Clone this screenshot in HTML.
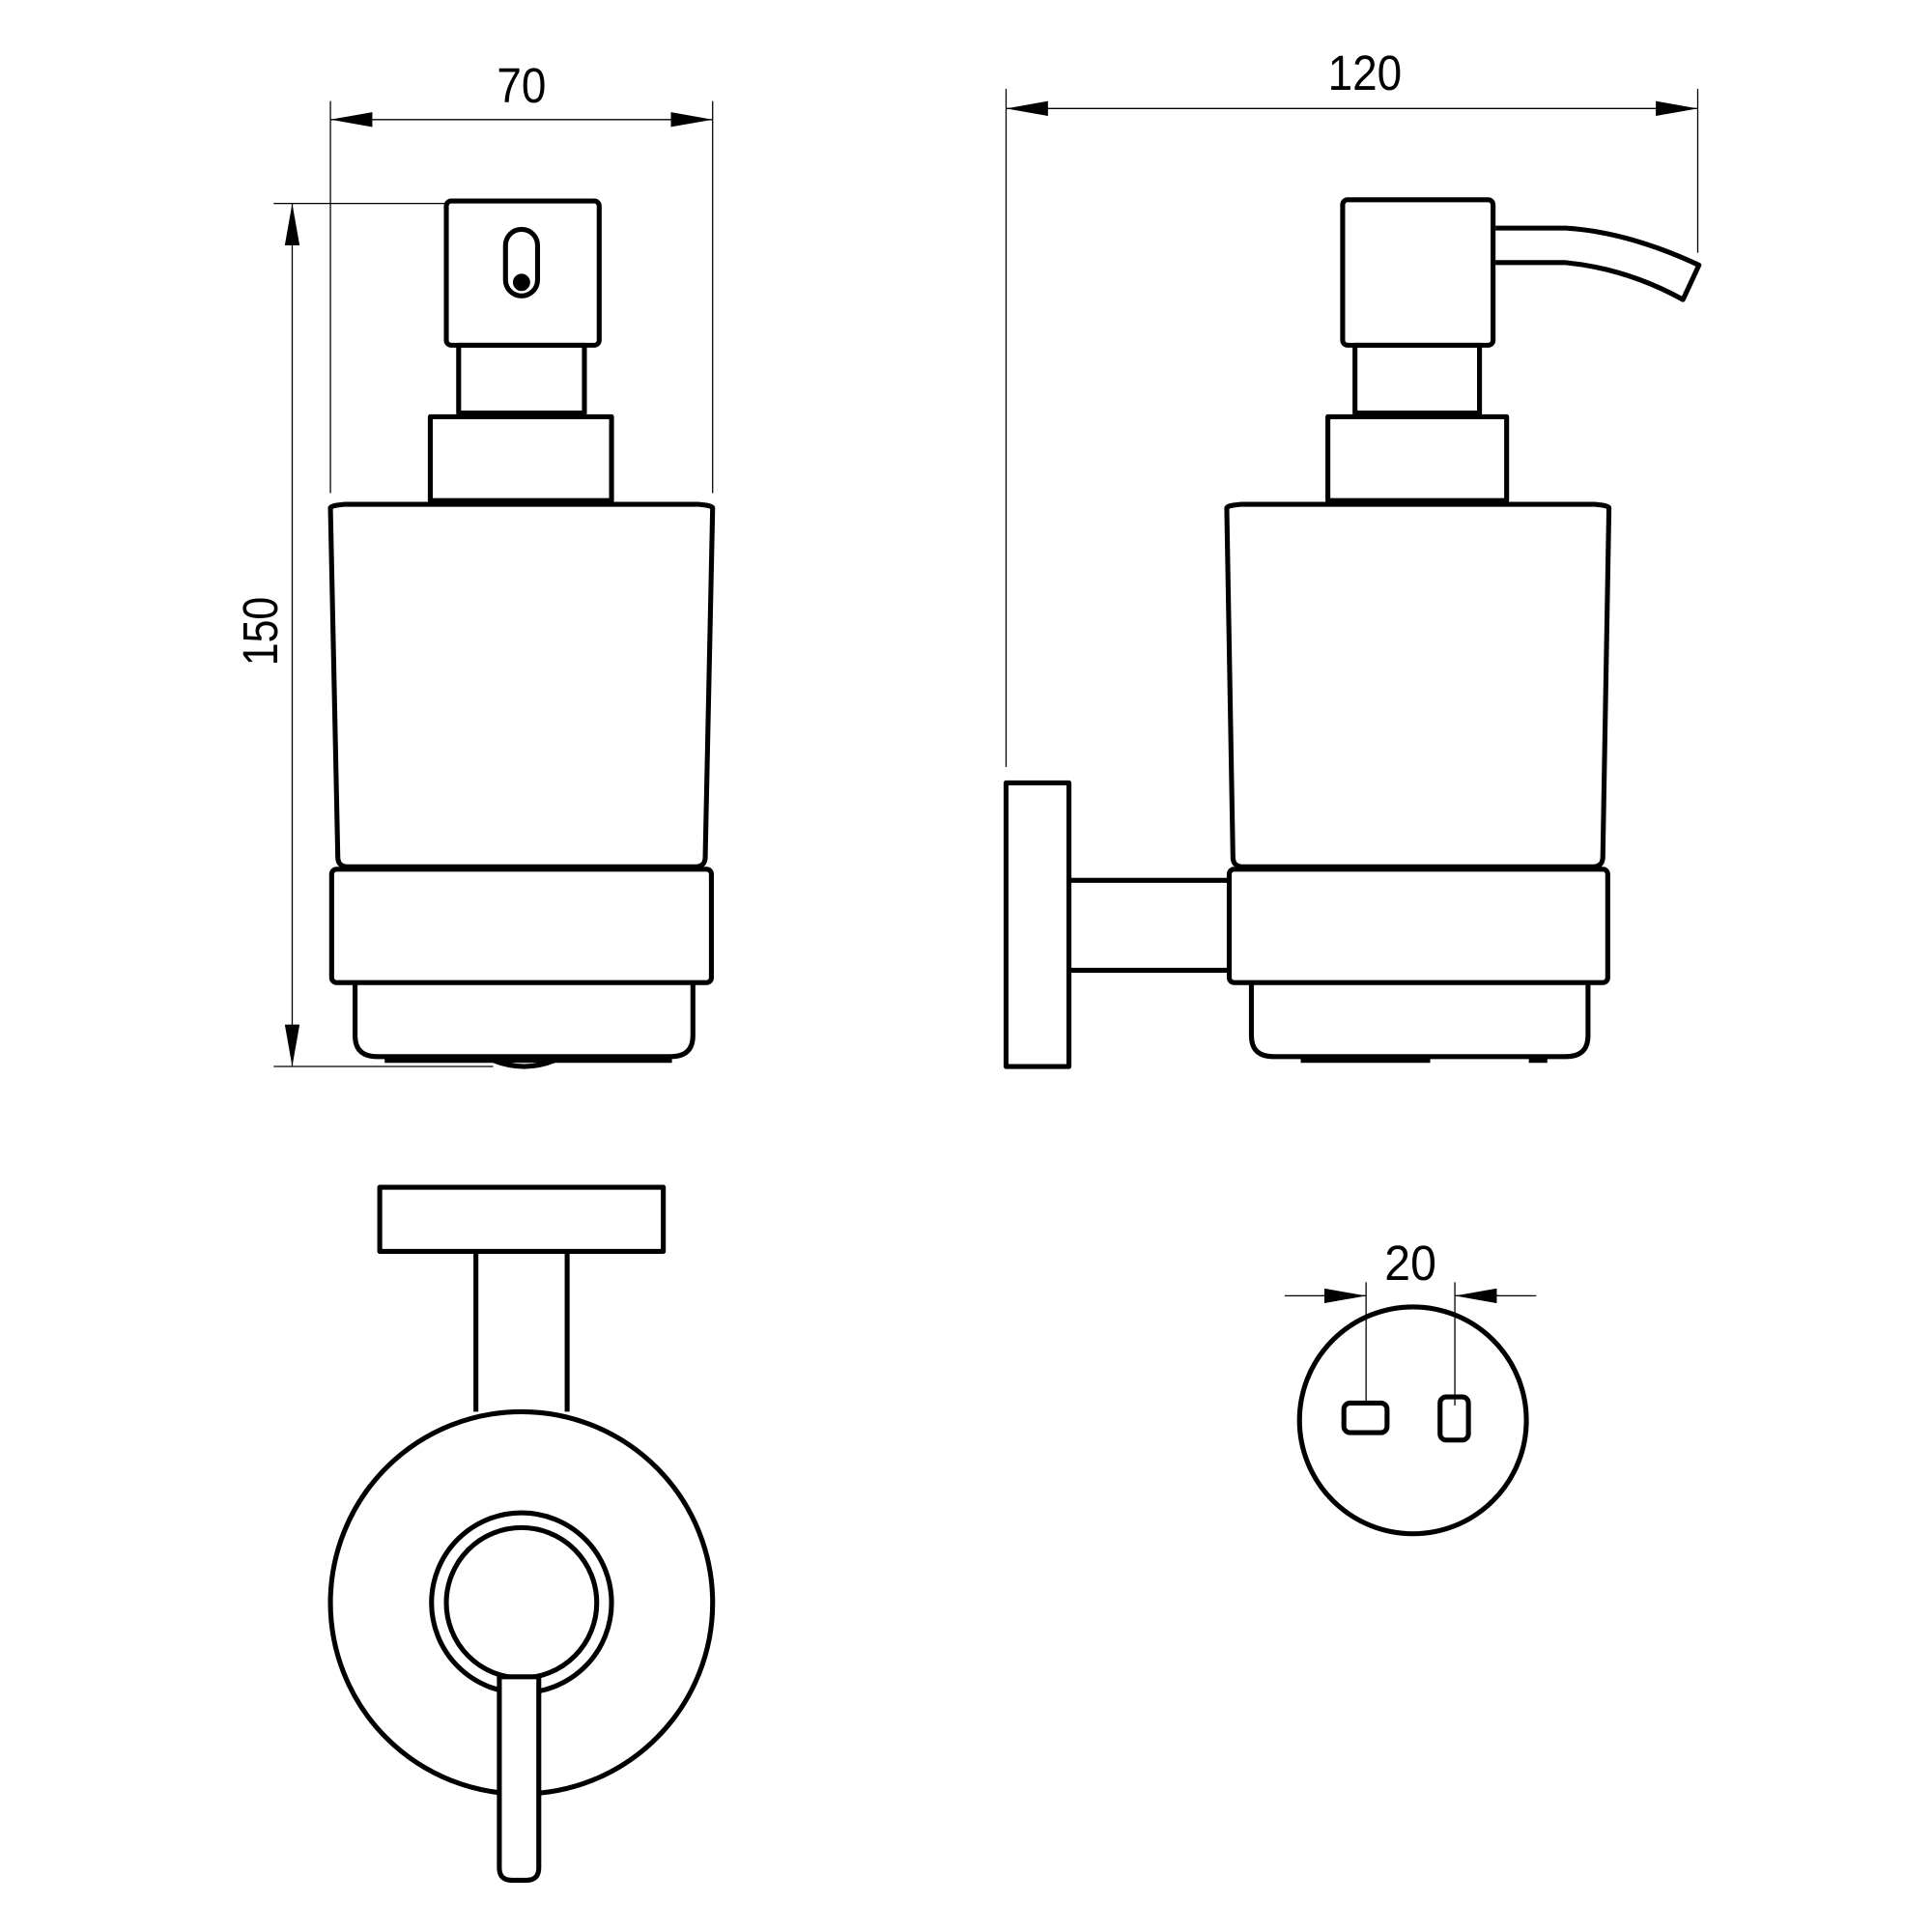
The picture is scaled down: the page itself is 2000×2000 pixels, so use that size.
<!DOCTYPE html>
<html><head><meta charset="utf-8"><style>html,body{margin:0;padding:0;background:#fff}svg{display:block}</style></head>
<body>
<svg width="2000" height="2000" viewBox="0 0 1567 1567" xmlns="http://www.w3.org/2000/svg">
<defs>
<marker id="a" viewBox="0 0 34 12" refX="34" refY="6" markerWidth="34" markerHeight="12" markerUnits="userSpaceOnUse" orient="auto-start-reverse"><path d="M0,0 L34,6 L0,12 z" fill="#000"/></marker>
</defs>
<g font-family="Liberation Sans, sans-serif" font-size="40" fill="#000" text-anchor="middle">
<text x="423" y="83" textLength="40" lengthAdjust="spacingAndGlyphs">70</text>
<text x="1107" y="73" textLength="60" lengthAdjust="spacingAndGlyphs">120</text>
<text x="1144" y="1038" textLength="42" lengthAdjust="spacingAndGlyphs">20</text>
<text transform="translate(225,512) rotate(-90)" textLength="56" lengthAdjust="spacingAndGlyphs">150</text>
</g>
<g stroke="#000" stroke-width="1" fill="none">
<line x1="268" y1="82" x2="268" y2="400"/>
<line x1="578" y1="82" x2="578" y2="400"/>
<line x1="222" y1="165" x2="362" y2="165"/>
<line x1="222" y1="865" x2="400" y2="865"/>
<line x1="816" y1="72" x2="816" y2="622"/>
<line x1="1377" y1="72" x2="1377" y2="205"/>
<line x1="1108" y1="1040" x2="1108" y2="1140"/>
<line x1="1180" y1="1040" x2="1180" y2="1140"/>
<line x1="1042" y1="1051" x2="1108" y2="1051"/>
<line x1="1180" y1="1051" x2="1246" y2="1051"/>
<line x1="268" y1="97" x2="578" y2="97" marker-start="url(#a)" marker-end="url(#a)"/>
<line x1="237" y1="165" x2="237" y2="865" marker-start="url(#a)" marker-end="url(#a)"/>
<line x1="816" y1="88" x2="1377" y2="88" marker-start="url(#a)" marker-end="url(#a)"/>
<line x1="1072" y1="1051" x2="1108" y2="1051" marker-end="url(#a)"/>
<line x1="1216" y1="1051" x2="1180" y2="1051" marker-end="url(#a)"/>
</g>
<g stroke="#000" stroke-width="4" fill="none" stroke-linejoin="round">
<rect x="362" y="163" width="124" height="117" rx="4"/>
<rect x="410" y="186" width="26" height="54" rx="13"/>
<circle cx="423" cy="229" r="5" fill="#000"/>
<rect x="372" y="280" width="102" height="55"/>
<rect x="349" y="338" width="147" height="68"/>
<path d="M268,412 Q268,410 280,409 L566,409 Q578,410 578,412 L572,695 Q572,703 564,703 L282,703 Q274,703 274,695 Z"/>
<rect x="269" y="705" width="308" height="92" rx="4"/>
<path d="M288,797 L288,840 Q288,857 306,857 L544,857 Q562,857 562,840 L562,797"/>
<path d="M312,860 L545,860 M400,860 Q425,870 450,860"/>
<rect x="1089" y="162" width="122" height="118" rx="4"/>
<path d="M1213,185 L1270,185 Q1320,188 1378,215 L1365,243 Q1320,218 1270,213 L1213,213"/>
<rect x="1099" y="280" width="101" height="55"/>
<rect x="1077" y="338" width="145" height="68"/>
<path d="M995,412 Q995,410 1007,409 L1293,409 Q1305,410 1305,412 L1300,695 Q1300,703 1292,703 L1008,703 Q1000,703 1000,695 Z"/>
<rect x="997" y="705" width="307" height="92" rx="4"/>
<path d="M1015,797 L1015,840 Q1015,857 1033,857 L1270,857 Q1288,857 1288,840 L1288,797"/>
<path d="M1055,860 L1160,860 M1240,860 L1255,860"/>
<rect x="816" y="635" width="51" height="230"/>
<path d="M867,714 L997,714 M867,787 L997,787"/>
<rect x="308" y="963" width="230" height="52"/>
<path d="M386,1015 L386,1145 M460,1015 L460,1145"/>
<circle cx="423" cy="1300" r="155"/>
<circle cx="423" cy="1300" r="73"/>
<circle cx="423" cy="1300" r="61"/>
<path d="M405,1360 L405,1515 Q405,1525 415,1525 L427,1525 Q437,1525 437,1515 L437,1360 Z" fill="#fff"/>
<circle cx="1146" cy="1152" r="92"/>
<rect x="1090" y="1138" width="35" height="24" rx="5"/>
<rect x="1168" y="1133" width="23" height="35" rx="5"/>
</g>
</svg>
</body></html>
